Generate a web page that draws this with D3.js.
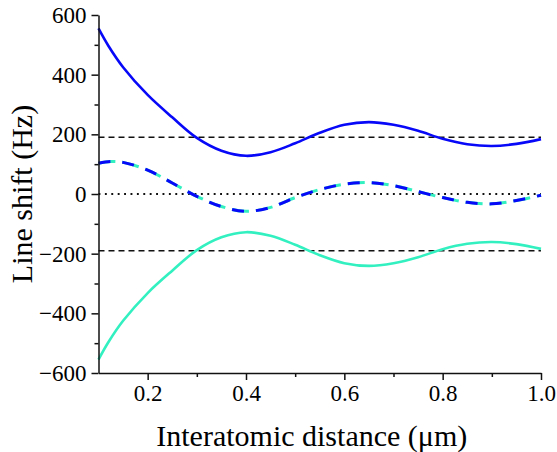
<!DOCTYPE html>
<html>
<head>
<meta charset="utf-8">
<script src="https://cdn.jsdelivr.net/npm/d3@7"></script>
<style>
	body { margin: 0; background: #fff; }
	text { font-family: "Liberation Serif", "Times New Roman", serif; fill: #000; }
</style>
</head>
<body>
<div id="chart"></div>
<script>
// distance (µm) samples
const distance = [0.1, 0.12, 0.15, 0.2, 0.25, 0.3, 0.35, 0.4, 0.45, 0.5, 0.55, 0.6, 0.65, 0.7, 0.75, 0.8, 0.85, 0.9, 0.95, 1.0];
const upperShift = [555, 497, 425, 332, 257, 188, 145, 128, 140, 170, 205, 232, 241, 232, 212, 185, 167, 161, 168, 184];
const lowerShift = [-555, -497, -425, -332, -257, -188, -145, -128, -140, -170, -205, -232, -241, -232, -212, -185, -167, -161, -168, -184];

const midDistance = [0.1, 0.125, 0.15, 0.2, 0.25, 0.3, 0.35, 0.4, 0.45, 0.5, 0.55, 0.6, 0.65, 0.7, 0.75, 0.8, 0.85, 0.9, 0.95, 1.0];
const midShift = [103, 109, 106, 80, 37, -8, -42, -58, -45, -12, 15, 33, 38, 28, 8, -12, -28, -33, -22, -4];

const refLevels = [190, -190];
const xTicks = [0.2, 0.4, 0.6, 0.8, 1.0];
const xMinorTicks = [0.3, 0.5, 0.7, 0.9];
const yTicks = [-600, -400, -200, 0, 200, 400, 600];
const yMinorTicks = [-500, -300, -100, 100, 300, 500];

const width = 557;
const height = 452;
const margin = { top: 15, right: 16, bottom: 79, left: 98.5 };

const blue = "#0808f8";
const cyan = "#33f0c0";

const svg = d3.select("#chart")
	.append("svg")
	.attr("width", width)
	.attr("height", height);

const x = d3.scaleLinear()
	.domain([0.1, 1.0])
	.range([margin.left, width - margin.right]);

const y = d3.scaleLinear()
	.domain([-600, 600])
	.range([height - margin.bottom, margin.top]);

// reference lines
svg.selectAll(".ref")
	.data(refLevels)
	.join("line")
	.attr("x1", x(0.1))
	.attr("x2", x(1.0))
	.attr("y1", (d) => y(d))
	.attr("y2", (d) => y(d))
	.attr("stroke", "#111")
	.attr("stroke-width", 1.4)
	.attr("stroke-dasharray", "6,4");

svg.append("line")
	.attr("x1", x(0.1))
	.attr("x2", x(1.0))
	.attr("y1", y(0))
	.attr("y2", y(0))
	.attr("stroke", "#111")
	.attr("stroke-width", 1.9)
	.attr("stroke-dasharray", "1.9,4.5");

const line = d3.line()
	.x((d) => x(d[0]))
	.y((d) => y(d[1]))
	.curve(d3.curveCatmullRom.alpha(0.5));

const zip = (xs, ys) => xs.map((v, i) => [v, ys[i]]);

svg.append("path")
	.attr("d", line(zip(distance, upperShift)))
	.attr("fill", "none")
	.attr("stroke", blue)
	.attr("stroke-width", 2.6);

svg.append("path")
	.attr("d", line(zip(distance, lowerShift)))
	.attr("fill", "none")
	.attr("stroke", cyan)
	.attr("stroke-width", 2.6);

// middle curve: cyan dashes peeking out behind blue dashes
svg.append("path")
	.attr("d", line(zip(midDistance, midShift)))
	.attr("fill", "none")
	.attr("stroke", cyan)
	.attr("stroke-width", 3)
	.attr("stroke-dasharray", "17,7");

svg.append("path")
	.attr("d", line(zip(midDistance, midShift)))
	.attr("fill", "none")
	.attr("stroke", blue)
	.attr("stroke-width", 3)
	.attr("stroke-dasharray", "12,12");

// axes
const axes = [];
axes.push(svg.append("g")
	.attr("transform", `translate(0,${y(-600)})`)
	.call(d3.axisBottom(x).tickValues(xTicks).tickFormat(d3.format(".1f")).tickSize(7).tickSizeOuter(0).tickPadding(5)));

axes.push(svg.append("g")
	.attr("transform", `translate(0,${y(-600)})`)
	.call(d3.axisBottom(x).tickValues(xMinorTicks).tickFormat("").tickSize(4).tickSizeOuter(0)));

axes.push(svg.append("g")
	.attr("transform", `translate(${x(0.1)},0)`)
	.call(d3.axisLeft(y).tickValues(yTicks).tickSize(7).tickSizeOuter(0).tickPadding(5)));

axes.push(svg.append("g")
	.attr("transform", `translate(${x(0.1)},0)`)
	.call(d3.axisLeft(y).tickValues(yMinorTicks).tickFormat("").tickSize(4).tickSizeOuter(0)));

axes[1].select(".domain").remove();
axes[3].select(".domain").remove();
axes.forEach((g) => g.attr("font-family", null).attr("font-size", 23));

svg.selectAll(".domain, .tick line")
	.attr("stroke", "#111")
	.attr("stroke-width", 1.5);

svg.selectAll(".tick text")
	.attr("fill", "#111");

// titles
svg.append("text")
	.attr("x", (x(0.1) + x(1.0)) / 2 - 8)
	.attr("y", 446)
	.attr("text-anchor", "middle")
	.style("font-size", "30px")
	.text("Interatomic distance (μm)");

svg.append("text")
	.attr("transform", `translate(32,${y(0)}) rotate(-90)`)
	.attr("text-anchor", "middle")
	.style("font-size", "30px")
	.text("Line shift (Hz)");
</script>
</body>
</html>
